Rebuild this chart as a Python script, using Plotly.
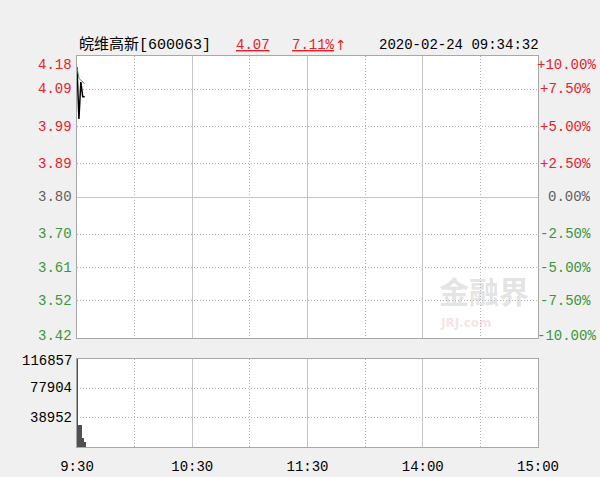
import plotly.graph_objects as go

# ---- data ----
minutes = [0, 1, 2, 3, 4]
price = [4.15, 4.01, 4.11, 4.07, 4.07]
avg_price = [4.15, 4.12, 4.115, 4.11, 4.105]
volume = [116857, 29200, 28800, 12000, 6000]

prev_close = 3.80
price_ticks = [4.18, 4.09, 3.99, 3.89, 3.80, 3.70, 3.61, 3.52, 3.42]
price_labels = ["4.18", "4.09", "3.99", "3.89", "3.80", "3.70", "3.61", "3.52", "3.42"]
pct_labels = ["+10.00%", "+7.50%", "+5.00%", "+2.50%", "0.00%", "-2.50%", "-5.00%", "-7.50%", "-10.00%"]
vol_ticks = [116857, 77904, 38952]
vol_labels = ["116857", "77904", "38952"]
time_ticks = [0, 60, 120, 180, 240]
time_labels = ["9:30", "10:30", "11:30", "14:00", "15:00"]
half_ticks = [30, 90, 150, 210]

title_name = "皖维高新[600063]"
last_price = "4.07"
last_pct = "7.11%"
stamp = "2020-02-24 09:34:32"

RED = "#e8202a"
GREEN = "#3a963a"
GREY = "#606060"
MONO = "Liberation Mono, DejaVu Sans Mono, monospace"

W, H = 600, 477
L, R, T, B = 77, 62, 56, 30
PW, PH = W - L - R, H - T - B


def px(xp):
    return (xp - L) / PW


def py(yp):
    return (H - B - yp) / PH


fig = go.Figure()
fig.add_trace(go.Scatter(x=minutes, y=price, mode="lines",
                         line=dict(color="#000000", width=1.5),
                         xaxis="x", yaxis="y", hoverinfo="skip"))
fig.add_trace(go.Scatter(x=minutes, y=avg_price, mode="lines",
                         line=dict(color="#2e9a6a", width=1),
                         xaxis="x", yaxis="y", hoverinfo="skip"))
fig.add_trace(go.Bar(x=minutes, y=volume, width=0.5,
                     marker=dict(color="#505050", line=dict(width=0)),
                     xaxis="x2", yaxis="y2", hoverinfo="skip"))

dotgrid = dict(showgrid=True, gridcolor="#b4b4b4", griddash="1px,2px", gridwidth=1, ticks="")
xcommon = dict(range=[0, 240], showline=True, linecolor="#a8a8a8", linewidth=1, mirror=True,
               tickvals=time_ticks, showgrid=True, gridcolor="#c4c4c4", gridwidth=1,
               minor=dict(tickvals=half_ticks, **dotgrid), zeroline=False, ticks="",
               fixedrange=True, automargin=False)

price_minor = [v for v in price_ticks if v != prev_close]

fig.update_layout(
    width=W, height=H,
    margin=dict(l=L, r=R, t=T, b=B, autoexpand=False),
    paper_bgcolor="#f0f0f0", plot_bgcolor="#ffffff",
    showlegend=False, bargap=0,
    xaxis=dict(domain=[0, 1], anchor="y", showticklabels=False, **xcommon),
    yaxis=dict(domain=[py(338), 1], anchor="x", range=[3.42, 4.18],
               showline=True, linecolor="#a8a8a8", linewidth=1, mirror=True,
               tickvals=[prev_close], showgrid=True, gridcolor="#c4c4c4", gridwidth=1,
               showticklabels=False, zeroline=False, ticks="", automargin=False,
               minor=dict(tickvals=price_minor, **dotgrid), fixedrange=True),
    xaxis2=dict(domain=[0, 1], anchor="y2", showticklabels=True, ticktext=time_labels,
                ticklabelstandoff=6,
                tickfont=dict(family=MONO, size=14, color="#000000"), **xcommon),
    yaxis2=dict(domain=[0, py(359)], anchor="x2", range=[0, 116857],
                showline=True, linecolor="#a8a8a8", linewidth=1, mirror=True,
                tickvals=vol_ticks[1:], showgrid=True, gridcolor="#b4b4b4",
                griddash="1px,2px", showticklabels=False, zeroline=False, ticks="",
                automargin=False, fixedrange=True),
)

ann = []
n = len(price_ticks)
for i, (v, lab, pl) in enumerate(zip(price_ticks, price_labels, pct_labels)):
    if v > prev_close + 1e-9:
        c = RED
    elif v < prev_close - 1e-9:
        c = GREEN
    else:
        c = GREY
    ys = 0
    if i == 0:
        ys = -9
    elif i == n - 1:
        ys = 2
    ann.append(dict(x=0, y=v, xref="paper", yref="y", text=lab, showarrow=False,
                    xanchor="right", yanchor="middle", xshift=-3, yshift=ys,
                    font=dict(family=MONO, size=14, color=c)))
    xs = 60 if pl.startswith(("+10", "-10")) else 55
    ann.append(dict(x=1, y=v, xref="paper", yref="y", text=pl, showarrow=False,
                    xanchor="right", yanchor="middle", xshift=xs, yshift=ys,
                    font=dict(family=MONO, size=14, color=c)))

for i, (v, lab) in enumerate(zip(vol_ticks, vol_labels)):
    ann.append(dict(x=0, y=v, xref="paper", yref="y2", text=lab, showarrow=False,
                    xanchor="right", yanchor="middle", xshift=-3, yshift=-2 if i == 0 else 0,
                    font=dict(family=MONO, size=14, color="#000000")))

hdr_y = py(45)
ann.append(dict(x=px(77), y=hdr_y, xref="paper", yref="paper", text=title_name, showarrow=False,
                xanchor="left", yanchor="middle",
                font=dict(family="Liberation Mono, Noto Sans CJK SC", size=15, color="#000000")))
ann.append(dict(x=px(234), y=hdr_y, xref="paper", yref="paper", text=last_price, showarrow=False,
                xanchor="left", yanchor="middle",
                font=dict(family=MONO, size=14, color=RED, lineposition="under")))
ann.append(dict(x=px(290), y=hdr_y, xref="paper", yref="paper", text=last_pct, showarrow=False,
                xanchor="left", yanchor="middle",
                font=dict(family=MONO, size=14, color=RED, lineposition="under")))
ann.append(dict(x=px(333), y=hdr_y, xref="paper", yref="paper", text="↑", showarrow=False,
                xanchor="left", yanchor="middle",
                font=dict(family="DejaVu Sans", size=14, color=RED)))
ann.append(dict(x=px(377), y=hdr_y, xref="paper", yref="paper", text=stamp, showarrow=False,
                xanchor="left", yanchor="middle",
                font=dict(family=MONO, size=14, color="#000000")))

# watermark
ann.append(dict(x=px(484), y=py(290), xref="paper", yref="paper", text="<b>金融界</b>", showarrow=False,
                xanchor="center", yanchor="middle", borderpad=0,
                font=dict(family="Noto Sans CJK SC", size=30, color="rgba(185,185,185,0.4)")))
ann.append(dict(x=px(466), y=py(323), xref="paper", yref="paper", text="<b>JRJ.com</b>", showarrow=False,
                xanchor="center", yanchor="middle", borderpad=0,
                font=dict(family="DejaVu Sans", size=12, color="rgba(220,160,160,0.3)")))

fig.update_layout(annotations=ann)
fig.write_html("out.html", config={"displayModeBar": False},
               post_script="document.body.style.margin='0px';document.body.style.overflow='hidden';")
